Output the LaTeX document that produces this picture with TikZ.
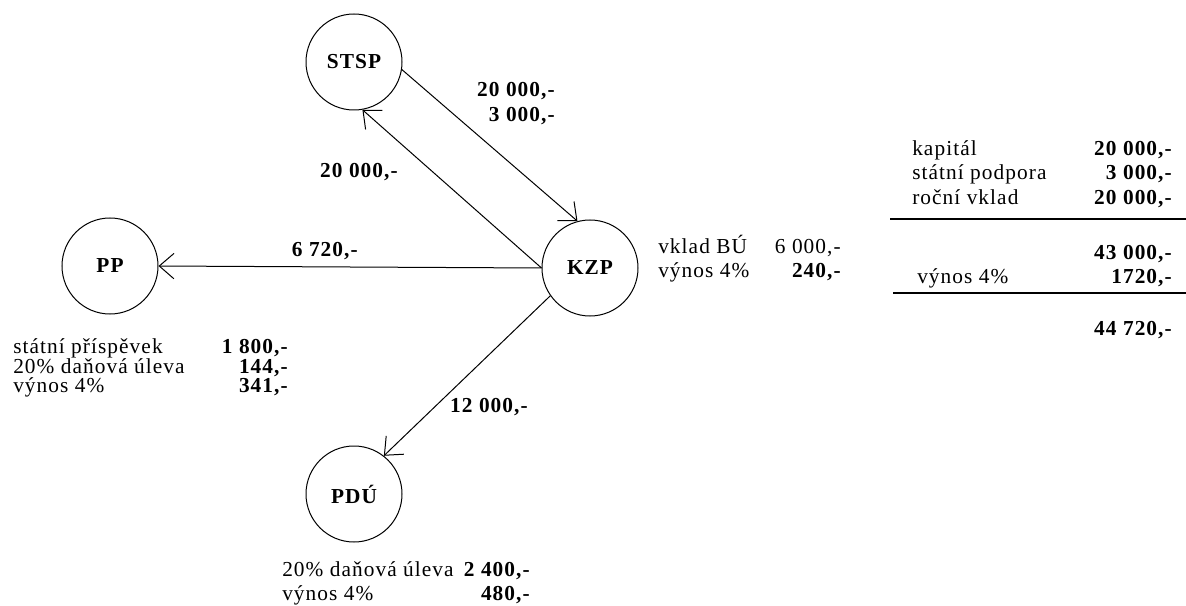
\documentclass[tikz,border=0pt]{standalone}
\usepackage{fontspec}
\setmainfont[LetterSpace=5]{Liberation Serif}
\usetikzlibrary{arrows.meta}

\begin{document}
\begin{tikzpicture}[
    x=0.75pt, y=-0.75pt,
    every node/.style={font=\fontsize{16}{19}\selectfont},
    acct/.style={circle, draw, line width=0.75pt, minimum size=72pt, inner sep=0pt, font=\fontsize{16}{19}\selectfont\bfseries},
    flow/.style={-{Straight Barb[length=11pt, width=19pt]}, line width=0.75pt},
    txt/.style={anchor=base west, inner sep=0pt},
    num/.style={anchor=base east, inner sep=0pt},
    val/.style={anchor=base east, inner sep=0pt, font=\fontsize{16}{19}\selectfont\bfseries},
    rule/.style={line width=1pt}
]
\useasboundingbox (0,0) rectangle (1186,606);

% Accounts
\node[acct] (stsp) at (354,62) {STSP};
\node[acct] (kzp) at (590,268) {KZP};
\node[acct] (pp) at (110,266) {PP};
\node[acct] (pdu) at (354,494) {PDÚ};

% Flows
\draw[flow] (stsp.-9) -- (kzp.105);
\draw[flow] (kzp.180) -- (stsp.-80);
\draw[flow] (kzp.west) -- (pp.east);
\draw[flow] (kzp.215) -- (pdu.52);

% Flow amounts
\node[val] (inA) at (555,97) {20~000,-};
\node[val] (inB) at (555,122) {3~000,-};
\node[val] (outA) at (398,178) {20~000,-};
\node[val] (toPP) at (358,257) {6~720,-};
\node[val] (toPDU) at (528,412) {12~000,-};

% KZP side
\node[txt] (kzpA) at (658,253) {vklad BÚ};
\node[num] (kzpAv) at (841,253) {6~000,-};
\node[txt] (kzpB) at (658,277) {výnos 4\%};
\node[val] (kzpBv) at (841,277) {240,-};

% PP side
\node[txt] (ppA) at (13,353) {státní příspěvek};
\node[val] (ppAv) at (288,353) {1~800,-};
\node[txt] (ppB) at (13,373) {20\% daňová úleva};
\node[val] (ppBv) at (288,373) {144,-};
\node[txt] (ppC) at (13,392) {výnos 4\%};
\node[val] (ppCv) at (288,392) {341,-};

% PDU side
\node[txt] (pduA) at (282,576) {20\% daňová úleva};
\node[val] (pduAv) at (530,576) {2~400,-};
\node[txt] (pduB) at (282,600) {výnos 4\%};
\node[val] (pduBv) at (530,600) {480,-};

% Summary
\node[txt] (kap) at (912,156) {kapitál};
\node[val] (kapv) at (1172,156) {20~000,-};
\node[txt] (sp) at (912,180) {státní podpora};
\node[val] (spv) at (1172,180) {3~000,-};
\node[txt] (rv) at (912,205) {roční vklad};
\node[val] (rvv) at (1172,205) {20~000,-};
\draw[rule] (890,219) -- (1186,219);
\node[val] (sum) at (1172,260) {43~000,-};
\node[txt] (vyn) at (917,283) {výnos 4\%};
\node[val] (vynv) at (1172,283) {1720,-};
\draw[rule] (893,293) -- (1186,293);
\node[val] (tot) at (1172,335) {44~720,-};
\end{tikzpicture}
\end{document}
